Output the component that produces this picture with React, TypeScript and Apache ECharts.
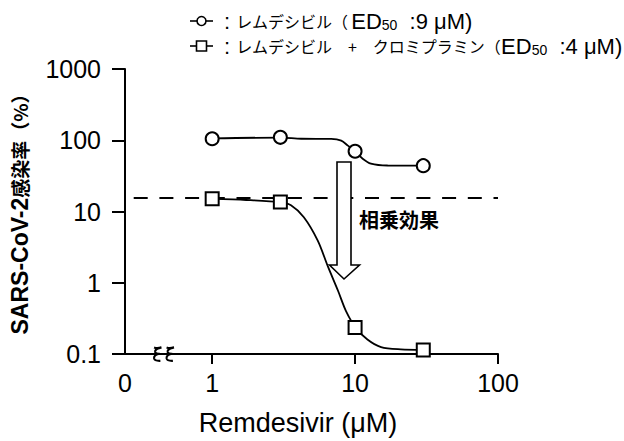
import React, { useEffect, useRef } from "react";
import * as echarts from "echarts";

// Measured concentrations (µM) and infection rates (%)
const concentrations = [1, 3, 10, 30];
const remdesivirOnly = [105, 110, 70, 44];
const remdesivirClomipramine = [15.1, 13.6, 0.236, 0.114];

// Fitted curves
const fitConcRem = [1, 3, 4.2, 6.8, 8.0, 8.9, 9.9, 11.3, 12.9, 16.9, 30];
const fitRem = [106, 109, 105, 104.5, 99, 84, 71, 55, 47, 44.2, 44];
const fitConcCombo = [1, 1.73, 3, 3.56, 4.38, 5.48, 6.46, 7.62, 8.64, 10.07, 12.2, 15.2, 20.9, 30];
const fitCombo = [15.0, 14.5, 13.5, 12.2, 8.3, 3.9, 1.68, 0.76, 0.40, 0.236, 0.16, 0.125, 0.116, 0.114];

// Dashed reference level (%)
const referenceLevel = [15.7];

// Axis ticks (log10 space)
const yTickValues = [-1, 0, 1, 2, 3];
const xAxisStart = -0.61; // broken-axis "0"
const xLabelValues = [xAxisStart, 0, 1, 2];
const xTickValues = [0, 1, 2];

const lg = (v: number) => Math.log10(v);
const fmtPow = (v: number) => {
  const p = Math.pow(10, v);
  return p < 1 ? String(Math.round(p * 10) / 10) : String(Math.round(p));
};

const LAT = "'Liberation Sans', Arial, sans-serif";
const JP = "'Noto Sans CJK JP', sans-serif";

echarts.graphic.registerShape(
  "brk",
  echarts.graphic.extendPath(
    "M1.5 1 Q4.5 2.2 8.5 0.8 Q2 2.2 2.5 5 Q3 6.8 7 6.6 Q1 7.6 1.5 10.8 Q2 13.2 7.5 13",
    {}
  )
);

export default function App() {
  const ref = useRef<HTMLDivElement>(null);
  useEffect(() => {
    const chart = echarts.init(ref.current!, null, { renderer: "svg" });
    const legendRich = {
      la: { fontFamily: LAT, fontSize: 22, color: "#000" },
      jp: { fontFamily: JP, fontSize: 16, color: "#000" },
      sub: { fontFamily: LAT, fontSize: 14, color: "#000", verticalAlign: "bottom", lineHeight: 14, padding: [8, 0, 0, 0] },
      sp: { width: 3 },
    };
    const markerStyle = { color: "#fff", borderColor: "#000", borderWidth: 2, opacity: 1 };
    chart.setOption({
      animation: false,
      backgroundColor: "#fff",
      grid: { left: 123, right: 126, top: 69, bottom: 87 },
      xAxis: {
        type: "value",
        min: xAxisStart,
        max: 2,
        name: "Remdesivir (μM)",
        nameLocation: "middle",
        nameGap: 55,
        nameTextStyle: { fontFamily: LAT, fontSize: 27, color: "#000", padding: [0, 27, 0, 0] },
        axisLine: { onZero: false, lineStyle: { color: "#000", width: 2 } },
        axisTick: { customValues: xTickValues, length: 10, lineStyle: { color: "#000", width: 2 } },
        axisLabel: {
          customValues: xLabelValues,
          margin: 16,
          fontFamily: LAT,
          fontSize: 25,
          color: "#000",
          formatter: (v: number) => (v < -0.5 ? "0" : fmtPow(v)),
        },
        splitLine: { show: false },
      },
      yAxis: {
        type: "value",
        min: -1,
        max: 3,
        interval: 1,
        name: "{a|SARS-CoV-2}{b|感染率（%）}",
        nameLocation: "middle",
        nameRotate: 90,
        nameGap: 94,
        nameTextStyle: {
          padding: [0, 0, 0, 4],
          rich: {
            a: { fontFamily: LAT, fontWeight: "bold", fontSize: 23, color: "#000" },
            b: { fontFamily: JP, fontWeight: "bold", fontSize: 19, color: "#000" },
          },
        },
        axisLine: { show: true, onZero: false, lineStyle: { color: "#000", width: 2 } },
        axisTick: { show: true, customValues: yTickValues, length: 13, lineStyle: { color: "#000", width: 2 } },
        axisLabel: { margin: 24, fontFamily: LAT, fontSize: 25, color: "#000", formatter: (v: number) => fmtPow(v) },
        splitLine: { show: false },
      },
      series: [
        {
          type: "line",
          name: "fit-rem",
          data: fitConcRem.map((c, i) => [lg(c), lg(fitRem[i])]),
          smooth: 0.3,
          showSymbol: false,
          symbol: "none",
          lineStyle: { color: "#000", width: 1.8 },
          z: 2,
        },
        {
          type: "line",
          name: "fit-combo",
          data: fitConcCombo.map((c, i) => [lg(c), lg(fitCombo[i])]),
          smooth: 0.3,
          showSymbol: false,
          symbol: "none",
          lineStyle: { color: "#000", width: 1.8 },
          markLine: {
            silent: true,
            symbol: "none",
            label: { show: false },
            lineStyle: { color: "#000", width: 2, type: [14, 11.7], dashOffset: 17 },
            data: referenceLevel.map((v) => ({ yAxis: lg(v) })),
          },
          z: 2,
        },
        {
          type: "scatter",
          name: "レムデシビル",
          data: concentrations.map((c, i) => [lg(c), lg(remdesivirOnly[i])]),
          symbol: "circle",
          symbolSize: 13,
          itemStyle: markerStyle,
          z: 5,
        },
        {
          type: "scatter",
          name: "レムデシビル + クロミプラミン",
          data: concentrations.map((c, i) => [lg(c), lg(remdesivirClomipramine[i])]),
          symbol: "rect",
          symbolSize: 13,
          itemStyle: markerStyle,
          z: 5,
        },
      ],
      graphic: [
        // legend
        { type: "line", shape: { x1: 190, y1: 21, x2: 213, y2: 21 }, style: { stroke: "#000", lineWidth: 1.6 }, z: 10 },
        { type: "circle", shape: { cx: 201.5, cy: 21, r: 4.5 }, style: { fill: "#fff", stroke: "#000", lineWidth: 1.6 }, z: 11 },
        { type: "line", shape: { x1: 190, y1: 46, x2: 213, y2: 46 }, style: { stroke: "#000", lineWidth: 1.6 }, z: 10 },
        { type: "rect", shape: { x: 196.5, y: 41, width: 10, height: 10 }, style: { fill: "#fff", stroke: "#000", lineWidth: 1.6 }, z: 11 },
        {
          type: "text",
          x: 224,
          y: 21,
          style: {
            text: "{la|: }{jp|レムデシビル（}{sp| }{la|ED}{sub|50}{la|  :9 μM)}",
            rich: legendRich,
            verticalAlign: "middle",
            align: "left",
          },
          z: 10,
        },
        {
          type: "text",
          x: 224,
          y: 46,
          style: {
            text: "{la|: }{jp|レムデシビル　+　クロミプラミン（}{la|ED}{sub|50}{la|  :4 μM)}",
            rich: legendRich,
            verticalAlign: "middle",
            align: "left",
          },
          z: 10,
        },
        // broken-axis mark
        { type: "brk", x: 152.5, y: 346.5, scaleX: 1.05, scaleY: 1.1, style: { fill: "none", stroke: "#000", lineWidth: 2 }, z: 10 },
        { type: "brk", x: 165, y: 346.5, scaleX: 1.05, scaleY: 1.1, style: { fill: "none", stroke: "#000", lineWidth: 2 }, z: 10 },
        // synergy arrow
        {
          type: "polygon",
          shape: {
            points: [
              [337, 162], [351, 162], [351, 265], [359.5, 265], [344, 279], [329.5, 265], [337, 265],
            ],
          },
          style: { fill: "#fff", stroke: "#000", lineWidth: 1.6 },
          z: 20,
        },
        {
          type: "text",
          x: 359,
          y: 219,
          style: { text: "相乗効果", fontFamily: JP, fontWeight: "bold", fontSize: 20, fill: "#000", verticalAlign: "middle" },
          z: 20,
        },
      ],
    });
    return () => chart.dispose();
  }, []);
  return <div ref={ref} style={{ position: "absolute", left: 0, top: 0, width: 624, height: 441 }} />;
}
